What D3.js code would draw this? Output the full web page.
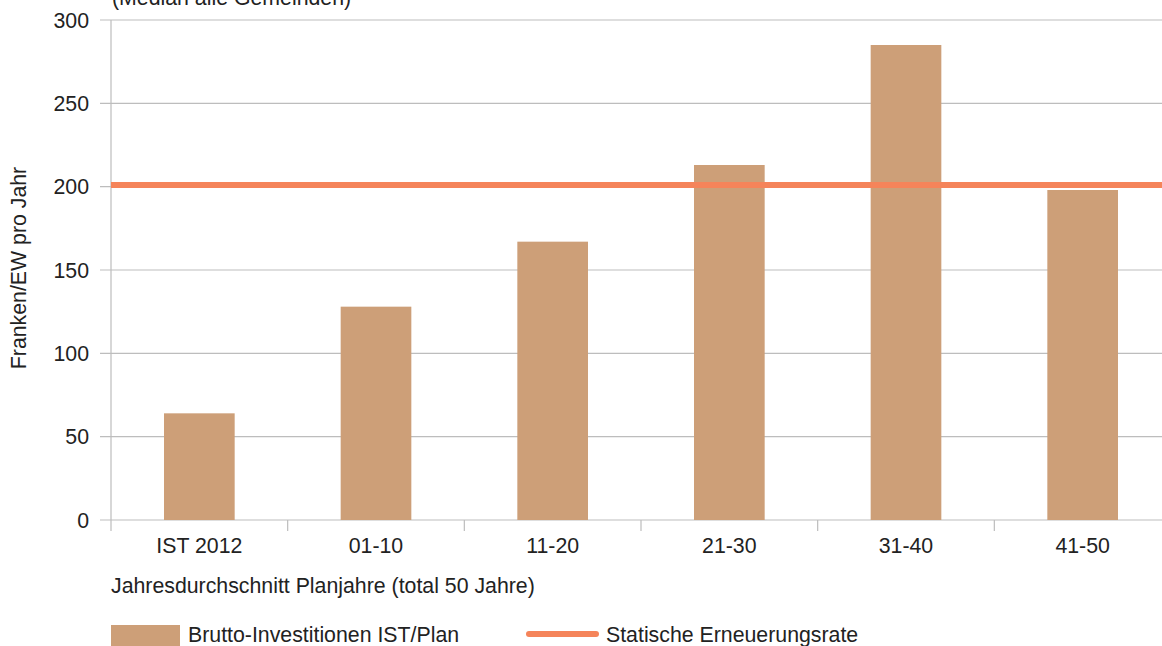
<!DOCTYPE html>
<html><head><meta charset="utf-8">
<script src="https://cdn.jsdelivr.net/npm/d3@7"></script>
<style>body{margin:0;background:#fff;overflow:hidden}svg{display:block}text{font-family:"Liberation Sans",Arial,Helvetica,sans-serif;fill:#222}</style>
</head><body><svg id="c" width="1162" height="646"></svg>
<script>
const categories = ["IST 2012","01-10","11-20","21-30","31-40","41-50"];
const investValues = [64,128,167,213,285,198];
const renewalRate = 201;
const yTicks = [0,50,100,150,200,250,300];
const seriesNames = ["Brutto-Investitionen IST/Plan","Statische Erneuerungsrate"];

const svg = d3.select("#c");
const pLeft = 111, pRight = 1171, pTop = 20, pBottom = 520;
const x = d3.scaleBand().domain(categories).range([pLeft,pRight]).paddingInner(0.6).paddingOuter(0.3);
const xb = d3.scaleBand().domain(categories).range([pLeft,pRight]);
const y = d3.scaleLinear().domain([0,300]).range([pBottom,pTop]);
const fs = 21.3;

svg.append("g").selectAll("line").data(yTicks).join("line")
  .attr("x1",pLeft-11).attr("x2",1162).attr("y1",d=>y(d)).attr("y2",d=>y(d))
  .attr("stroke","#bdbdbd").attr("stroke-width",1.2);
svg.append("line").attr("x1",pLeft).attr("x2",pLeft).attr("y1",pTop).attr("y2",pBottom+11).attr("stroke","#bdbdbd").attr("stroke-width",1.2);
svg.append("g").selectAll("text").data(yTicks).join("text")
  .attr("x",pLeft-22).attr("y",d=>y(d)).attr("dy","0.36em").attr("text-anchor","end")
  .attr("font-size",fs).text(d=>d);
svg.append("g").selectAll("line").data(categories.slice(1)).join("line")
  .attr("x1",d=>xb(d)).attr("x2",d=>xb(d)).attr("y1",pBottom).attr("y2",pBottom+11)
  .attr("stroke","#bdbdbd").attr("stroke-width",1.2);
svg.append("g").selectAll("rect").data(categories).join("rect")
  .attr("x",d=>x(d)).attr("width",x.bandwidth())
  .attr("y",(d,i)=>y(investValues[i])).attr("height",(d,i)=>pBottom-y(investValues[i]))
  .attr("fill","#cd9f78");
svg.append("g").selectAll("text").data(categories).join("text")
  .attr("x",d=>xb(d)+xb.bandwidth()/2).attr("y",553).attr("text-anchor","middle")
  .attr("font-size",fs).text(d=>d);
svg.append("line").attr("x1",pLeft).attr("x2",1162).attr("y1",y(renewalRate)).attr("y2",y(renewalRate))
  .attr("stroke","#f5845a").attr("stroke-width",6);
svg.append("text").attr("x",112).attr("y",5).attr("font-size",fs).text("(Median alle Gemeinden)");
svg.append("text").attr("transform","translate(26,268) rotate(-90)").attr("text-anchor","middle")
  .attr("font-size",fs).text("Franken/EW pro Jahr");
svg.append("text").attr("x",111).attr("y",593).attr("font-size",fs).text("Jahresdurchschnitt Planjahre (total 50 Jahre)");
svg.append("rect").attr("x",111).attr("y",625).attr("width",69).attr("height",21).attr("fill","#cd9f78");
svg.append("text").attr("x",188).attr("y",642).attr("font-size",fs).text(seriesNames[0]);
svg.append("line").attr("x1",529).attr("x2",596).attr("y1",634).attr("y2",634)
  .attr("stroke","#f5845a").attr("stroke-width",6).attr("stroke-linecap","round");
svg.append("text").attr("x",606).attr("y",642).attr("font-size",fs).text(seriesNames[1]);
</script></body></html>
